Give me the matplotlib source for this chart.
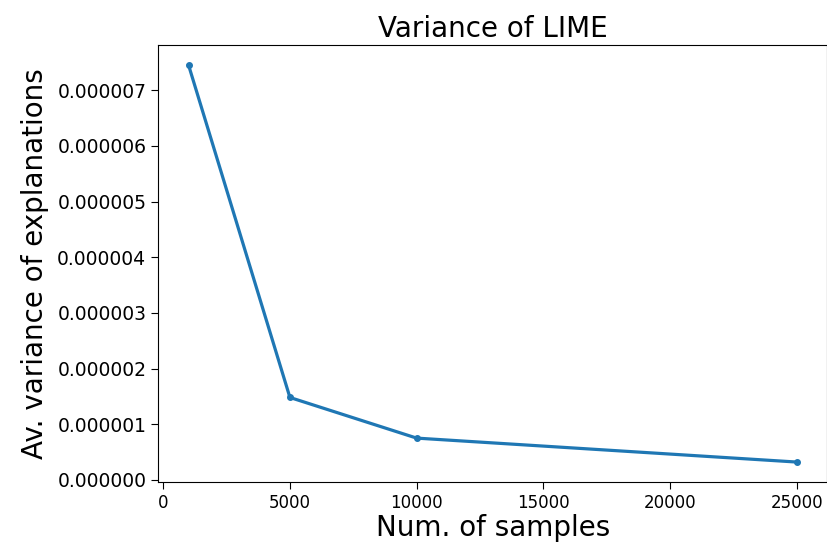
import matplotlib
matplotlib.use('Agg')
import matplotlib.pyplot as plt
from matplotlib.ticker import FormatStrFormatter

# data
num_samples = [1000, 5000, 10000, 25000]
av_variance = [7.45e-6, 1.48e-6, 0.75e-6, 0.32e-6]

fig = plt.figure(figsize=(8.28, 5.52), dpi=100)
ax = fig.add_axes([0.191, 0.127, 0.808, 0.791])

ax.plot(num_samples, av_variance, marker='.', markersize=8, linewidth=2.3, color='#1f77b4')

ax.yaxis.set_major_formatter(FormatStrFormatter('%.6f'))
ax.set_yticks([i * 1e-6 for i in range(8)])
ax.set_xticks([0, 5000, 10000, 15000, 20000, 25000])
ax.tick_params(axis='y', labelsize=13.5, length=5)
ax.tick_params(axis='x', labelsize=12, length=5)

ax.set_title('Variance of LIME', fontsize=20)
ax.set_xlabel('Num. of samples', fontsize=20, labelpad=2)
ax.set_ylabel('Av. variance of explanations', fontsize=20, labelpad=6)

fig.savefig('out.png', dpi=100)
